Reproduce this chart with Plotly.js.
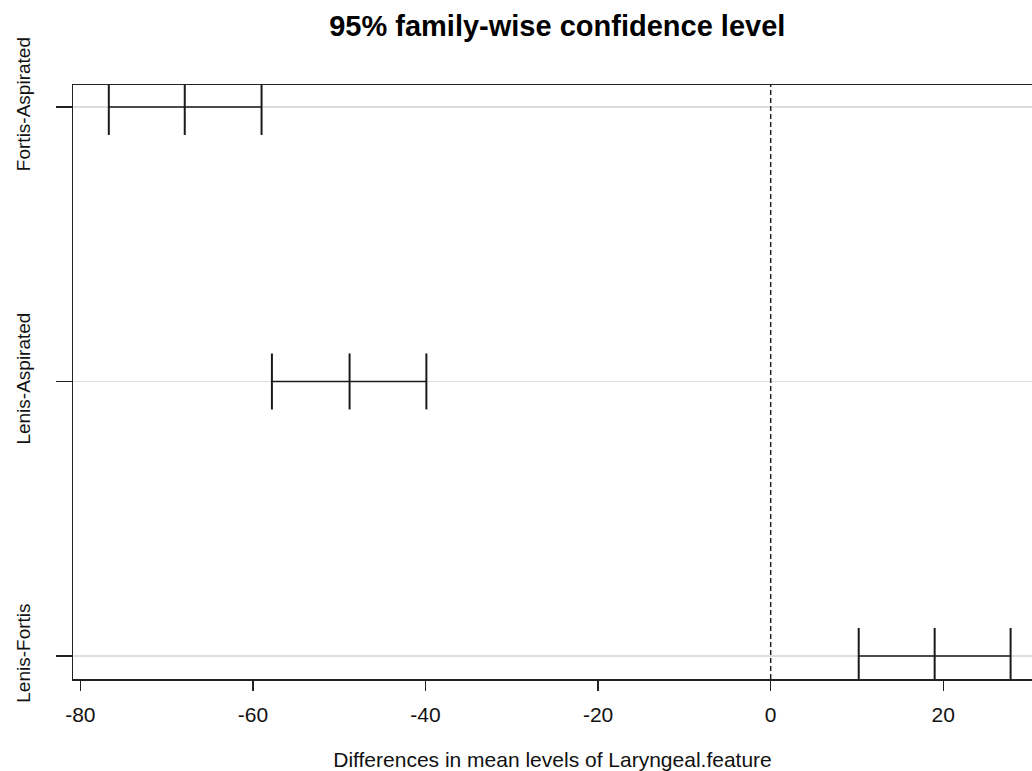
<!DOCTYPE html>
<html>
<head>
<meta charset="utf-8">
<script src="https://cdn.plot.ly/plotly-3.0.1.min.js"></script>
<style>
html,body{margin:0;padding:0;background:#fff;}
#chart{width:1032px;height:771px;}
</style>
</head>
<body>
<div id="chart"></div>
<script>
// Tukey HSD comparisons (bottom to top)
const comparisons = ["Lenis-Fortis", "Lenis-Aspirated", "Fortis-Aspirated"];
const diffs = [19.0, -48.8, -67.9];
const lowers = [10.2, -57.8, -76.7];
const uppers = [27.8, -39.9, -59.0];
const xTickVals = [-80, -60, -40, -20, 0, 20];
const xTickText = ["-80", "-60", "-40", "-20", "0", "20"];

const levels = comparisons.map((c, i) => i + 1);
const capHalf = 0.102;

const hx = [], hy = [], cx = [], cy = [];
levels.forEach((lv, i) => {
  hx.push(lowers[i], uppers[i], null);
  hy.push(lv, lv, null);
  [lowers[i], diffs[i], uppers[i]].forEach(v => {
    cx.push(v, v, null);
    cy.push(lv - capHalf, lv + capHalf, null);
  });
});

const lineColor = "#1a1a1a";
const traces = [
  {x: hx, y: hy, type: "scatter", mode: "lines", line: {color: lineColor, width: 1.5}, hoverinfo: "skip", showlegend: false},
  {x: cx, y: cy, type: "scatter", mode: "lines", line: {color: lineColor, width: 2}, hoverinfo: "skip", showlegend: false}
];

const fontFam = "Liberation Sans, Arial, sans-serif";
const layout = {
  width: 1032, height: 771,
  margin: {l: 73, r: 0, t: 85, b: 92},
  paper_bgcolor: "#fff", plot_bgcolor: "#fff",
  font: {family: fontFam, color: "#111"},
  title: {text: "<b>95% family-wise confidence level</b>", font: {size: 29, family: fontFam, color: "#000"},
          x: 0.54, xanchor: "center", y: 0.966, yanchor: "middle"},
  xaxis: {
    range: [-80.85, 30.28], tickvals: xTickVals, ticktext: xTickText,
    ticks: "outside", ticklen: 10, tickwidth: 1.5, tickcolor: "#222",
    showline: true, mirror: true, linecolor: "#222", linewidth: 1.5,
    showgrid: false, zeroline: false,
    tickfont: {size: 21, family: fontFam, color: "#111"},
    ticklabelstandoff: 6,
    title: {text: "Differences in mean levels of Laryngeal.feature", font: {size: 21, family: fontFam, color: "#111"}, standoff: 30}
  },
  yaxis: {
    range: [0.916, 3.08], tickvals: levels, ticktext: comparisons, tickangle: -90,
    ticks: "outside", ticklen: 16, tickwidth: 1.5, tickcolor: "#222",
    showline: true, mirror: false, linecolor: "#222", linewidth: 1.5,
    showgrid: true, gridcolor: "#dedede", gridwidth: 1.5, zeroline: false,
    tickfont: {size: 19, family: fontFam, color: "#111"},
    ticklabelstandoff: 18
  },
  shapes: [
    {type: "line", xref: "x", yref: "paper", x0: 0, x1: 0, y0: 0, y1: 1,
     line: {color: "#222", width: 1.5, dash: "5px,3px"}}
  ]
};

Plotly.newPlot("chart", traces, layout, {staticPlot: true, displayModeBar: false});
</script>
</body>
</html>
